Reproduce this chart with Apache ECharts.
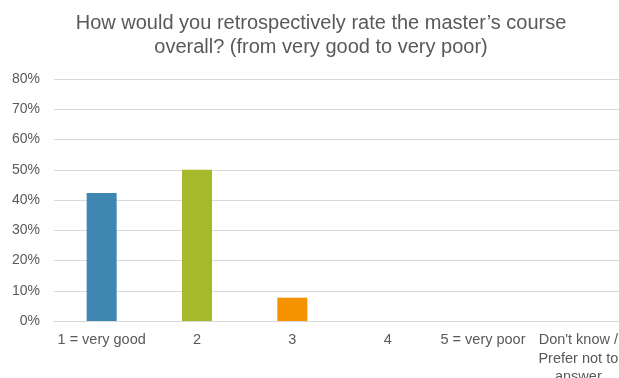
<!DOCTYPE html>
<html><head><meta charset="utf-8">
<script src="https://cdn.jsdelivr.net/npm/echarts@6/dist/echarts.min.js"></script>
<style>html,body{margin:0;padding:0;background:#fff}#c{width:619px;height:378px}</style>
</head><body><div id="c"></div>
<script>
var categories = ["1 = very good", "2", "3", "4", "5 = very poor", "Don't know /\nPrefer not to\nanswer"];
var values = [42.3, 50.0, 7.7, 0, 0, 0];
var colors = ["#3f87b3", "#a6b92a", "#f59200", "#3f87b3", "#3f87b3", "#3f87b3"];
var yTicks = [0, 10, 20, 30, 40, 50, 60, 70, 80];
var titleText = "How would you retrospectively rate the master\u2019s course\noverall? (from very good to very poor)";

var chart = echarts.init(document.getElementById('c'), null, {renderer: 'canvas'});
chart.setOption({
  animation: false,
  title: {
    text: titleText, left: 321, top: 11, padding: 0, textAlign: 'center',
    textStyle: {fontFamily: 'Liberation Sans', fontSize: 20, fontWeight: 'normal', color: '#595959', lineHeight: 24}
  },
  grid: {left: 54, width: 572, top: 79, height: 242, containLabel: false, outerBoundsMode: 'none'},
  xAxis: {
    type: 'category', data: categories,
    axisLine: {lineStyle: {color: '#d9d9d9'}},
    axisTick: {show: false},
    axisLabel: {interval: 0, color: '#595959', fontFamily: 'Liberation Sans', fontSize: 14.5, lineHeight: 18.5, margin: 10}
  },
  yAxis: {
    type: 'value', min: yTicks[0], max: yTicks[yTicks.length - 1], interval: 10,
    axisLine: {show: false}, axisTick: {show: false},
    splitLine: {lineStyle: {color: '#d9d9d9', width: 1}},
    axisLabel: {color: '#595959', fontFamily: 'Liberation Sans', fontSize: 14, margin: 14, formatter: function(v){return v + '%';}}
  },
  series: [{
    type: 'bar', barWidth: 30,
    data: values.map(function(v, i){return {value: v, itemStyle: {color: colors[i]}};})
  }]
});
</script></body></html>
